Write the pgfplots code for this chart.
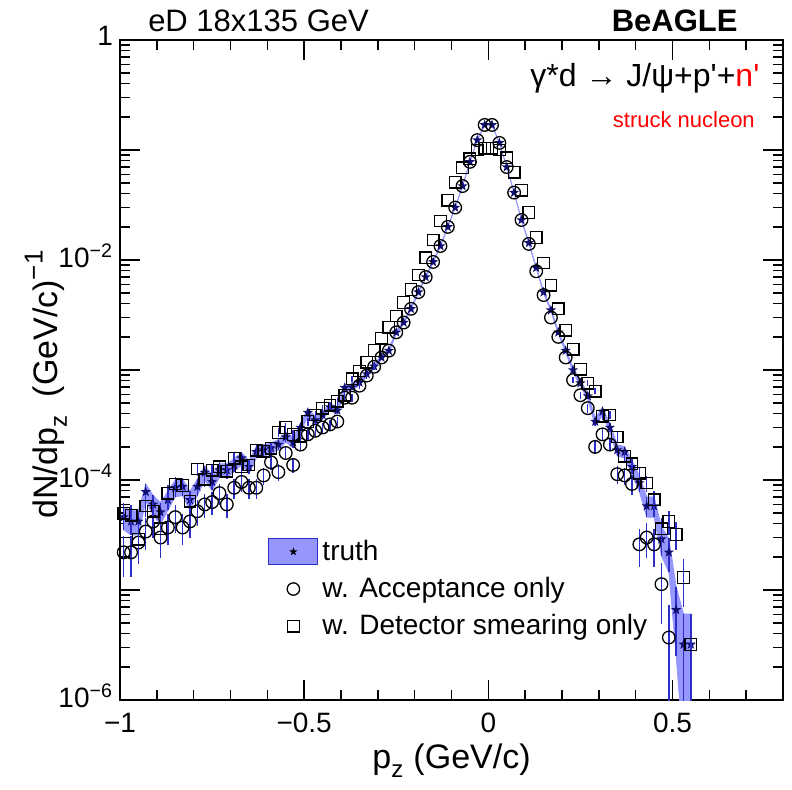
\documentclass[border=0pt]{standalone}
\usepackage{fontspec}
\setmainfont{Liberation Sans}
\usepackage{pgfplots}
\pgfplotsset{compat=1.18}
\usepackage{pgfplotstable}
\usepgfplotslibrary{fillbetween}

\definecolor{bandcol}{RGB}{150,150,255}
\definecolor{starcol}{RGB}{15,15,115}
\definecolor{errcol}{RGB}{45,45,200}
\newcommand\fs[1]{\fontsize{#1}{#1}\selectfont}

% filled five-point star (ROOT marker 29)
\pgfdeclareplotmark{fstar}{%
  \pgfpathmoveto{\pgfpointpolar{90}{\pgfplotmarksize}}%
  \pgfpathlineto{\pgfpointpolar{126}{0.4\pgfplotmarksize}}%
  \pgfpathlineto{\pgfpointpolar{162}{\pgfplotmarksize}}%
  \pgfpathlineto{\pgfpointpolar{198}{0.4\pgfplotmarksize}}%
  \pgfpathlineto{\pgfpointpolar{234}{\pgfplotmarksize}}%
  \pgfpathlineto{\pgfpointpolar{270}{0.4\pgfplotmarksize}}%
  \pgfpathlineto{\pgfpointpolar{306}{\pgfplotmarksize}}%
  \pgfpathlineto{\pgfpointpolar{342}{0.4\pgfplotmarksize}}%
  \pgfpathlineto{\pgfpointpolar{18}{\pgfplotmarksize}}%
  \pgfpathlineto{\pgfpointpolar{54}{0.4\pgfplotmarksize}}%
  \pgfpathclose\pgfusepathqfill}

% truth
\pgfplotstableread{
x y e
-0.99 4.6e-5 1.08e-5
-0.97 4.2e-5 1.04e-5
-0.95 4.2e-5 1.04e-5
-0.93 7.8e-5 1.41e-5
-0.91 6.0e-5 1.24e-5
-0.89 5.1e-5 1.14e-5
-0.87 6.6e-5 1.30e-5
-0.85 8.5e-5 1.47e-5
-0.83 8.7e-5 1.49e-5
-0.81 6.6e-5 1.30e-5
-0.79 8.7e-5 1.49e-5
-0.77 1.17e-4 1.73e-5
-0.75 9.6e-5 1.57e-5
-0.73 1.23e-4 1.77e-5
-0.71 1.23e-4 1.77e-5
-0.69 1.37e-4 1.87e-5
-0.67 1.58e-4 2.01e-5
-0.65 1.32e-4 1.84e-5
-0.63 1.8e-4 2.15e-5
-0.61 1.87e-4 2.19e-5
-0.59 1.95e-4 2.23e-5
-0.57 2.1e-4 2.32e-5
-0.55 2.46e-4 2.51e-5
-0.53 2.2e-4 2.37e-5
-0.51 3.0e-4 2.77e-5
-0.49 4.1e-4 3.24e-5
-0.47 3.5e-4 2.99e-5
-0.45 3.9e-4 3.16e-5
-0.43 4.6e-4 3.43e-5
-0.41 4.3e-4 3.32e-5
-0.39 6.9e-4 4.2e-5
-0.37 7.0e-4 4.23e-5
-0.35 7.7e-4 4.44e-5
-0.33 9.2e-4 4.85e-5
-0.31 1.08e-3 5.26e-5
-0.29 1.3e-3 5.77e-5
-0.27 1.5e-3 6.2e-5
-0.25 2.2e-3 7.5e-5
-0.23 2.7e-3 8.3e-5
-0.21 3.6e-3 9.6e-5
-0.19 5.1e-3 1.14e-4
-0.17 7.0e-3 1.34e-4
-0.15 9.6e-3 1.57e-4
-0.13 0.0134 1.85e-4
-0.11 0.020 2.26e-4
-0.09 0.030 2.77e-4
-0.07 0.047 3.47e-4
-0.05 0.078 4.47e-4
-0.03 0.123 5.6e-4
-0.01 0.169 6.6e-4
0.01 0.169 6.6e-4
0.03 0.116 5.4e-4
0.05 0.070 4.2e-4
0.07 0.041 3.24e-4
0.09 0.0231 2.43e-4
0.11 0.0143 1.91e-4
0.13 0.0085 1.47e-4
0.15 0.0051 1.14e-4
0.17 0.0035 9.5e-5
0.19 0.0022 7.5e-5
0.21 0.0015 6.2e-5
0.23 1.0e-3 5.1e-5
0.25 7.6e-4 4.4e-5
0.27 5.8e-4 3.85e-5
0.29 3.4e-4 2.95e-5
0.31 4.2e-4 3.28e-5
0.33 3.0e-4 2.77e-5
0.35 1.87e-4 2.19e-5
0.37 1.8e-4 2.15e-5
0.39 1.32e-4 1.84e-5
0.41 9.4e-5 1.55e-5
0.43 5.8e-5 1.22e-5
0.45 5.8e-5 1.22e-5
0.47 2.9e-5 8.6e-6
0.49 2.2e-5 7.5e-6
0.51 6.6e-6 4.1e-6
0.53 3.2e-6 2.86e-6
0.55 3.2e-6 2.86e-6
}\truth

% with acceptance only
\pgfplotstableread{
x y e
-0.99 2.2e-5 8.9e-6
-0.97 2.2e-5 8.9e-6
-0.95 2.7e-5 9.9e-6
-0.93 3.4e-5 1.11e-5
-0.91 4.2e-5 1.23e-5
-0.89 3.0e-5 1.04e-5
-0.87 3.7e-5 1.16e-5
-0.85 4.6e-5 1.29e-5
-0.83 3.7e-5 1.16e-5
-0.81 4.2e-5 1.23e-5
-0.79 5.2e-5 1.37e-5
-0.77 6.0e-5 1.47e-5
-0.75 6.3e-5 1.51e-5
-0.73 7.6e-5 1.66e-5
-0.71 6.0e-5 1.47e-5
-0.69 8.5e-5 1.75e-5
-0.67 9.6e-5 1.86e-5
-0.65 8.5e-5 1.75e-5
-0.63 8.5e-5 1.75e-5
-0.61 1.1e-4 1.99e-5
-0.59 1.45e-4 2.29e-5
-0.57 1.18e-4 2.06e-5
-0.55 1.76e-4 2.52e-5
-0.53 1.37e-4 2.22e-5
-0.51 2.1e-4 2.75e-5
-0.49 2.6e-4 3.06e-5
-0.47 2.8e-4 3.18e-5
-0.45 3.0e-4 3.29e-5
-0.43 3.2e-4 3.4e-5
-0.41 3.4e-4 3.5e-5
-0.39 5.6e-4 4.5e-5
-0.37 5.6e-4 4.5e-5
-0.35 7.2e-4 5.1e-5
-0.33 8.9e-4 5.7e-5
-0.31 1.07e-3 6.2e-5
-0.29 1.3e-3 0
-0.27 1.5e-3 0
-0.25 2.2e-3 0
-0.23 2.7e-3 0
-0.21 3.6e-3 0
-0.19 5.1e-3 0
-0.17 7.0e-3 0
-0.15 9.6e-3 0
-0.13 0.0134 0
-0.11 0.020 0
-0.09 0.030 0
-0.07 0.047 0
-0.05 0.078 0
-0.03 0.123 0
-0.01 0.169 0
0.01 0.169 0
0.03 0.116 0
0.05 0.070 0
0.07 0.041 0
0.09 0.0231 0
0.11 0.0140 0
0.13 0.0079 0
0.15 0.0048 0
0.17 0.0030 0
0.19 0.0020 0
0.21 1.3e-3 0
0.23 8.1e-4 5.4e-5
0.25 5.9e-4 4.6e-5
0.27 4.5e-4 4.0e-5
0.29 2.0e-4 2.7e-5
0.31 2.6e-4 3.06e-5
0.33 2.1e-4 2.75e-5
0.35 1.13e-4 2.02e-5
0.37 1.1e-4 1.99e-5
0.39 9.2e-5 1.82e-5
0.41 2.6e-5 9.7e-6
0.43 3.0e-5 1.04e-5
0.45 2.6e-5 9.7e-6
0.47 1.13e-5 6.4e-6
0.49 3.7e-6 3.6e-6
}\accept

% with detector smearing only
\pgfplotstableread{
x y e
-0.99 5.0e-5 1.13e-5
-0.97 4.8e-5 1.11e-5
-0.95 2.9e-5 8.6e-6
-0.93 5.8e-5 1.22e-5
-0.91 5.2e-5 1.15e-5
-0.89 3.6e-5 9.6e-6
-0.87 7.6e-5 1.39e-5
-0.85 9.2e-5 1.53e-5
-0.83 8.9e-5 1.51e-5
-0.81 6.4e-5 1.28e-5
-0.79 1.26e-4 1.8e-5
-0.77 1.02e-4 1.62e-5
-0.75 1.23e-4 1.77e-5
-0.73 1.32e-4 1.84e-5
-0.71 1.2e-4 1.75e-5
-0.69 1.58e-4 2.01e-5
-0.67 1.32e-4 1.84e-5
-0.65 1.37e-4 1.87e-5
-0.63 1.87e-4 2.19e-5
-0.61 1.83e-4 2.16e-5
-0.59 1.95e-4 2.23e-5
-0.57 2.7e-4 2.63e-5
-0.55 3.0e-4 2.77e-5
-0.53 2.6e-4 2.58e-5
-0.51 2.5e-4 2.53e-5
-0.49 3.4e-4 2.95e-5
-0.47 3.9e-4 3.16e-5
-0.45 4.5e-4 3.39e-5
-0.43 4.8e-4 3.5e-5
-0.41 5.2e-4 3.65e-5
-0.39 5.9e-4 3.89e-5
-0.37 8.3e-4 4.6e-5
-0.35 9.8e-4 0
-0.33 1.18e-3 0
-0.31 1.5e-3 0
-0.29 1.95e-3 0
-0.27 2.45e-3 0
-0.25 3.1e-3 0
-0.23 4.1e-3 0
-0.21 5.4e-3 0
-0.19 7.3e-3 0
-0.17 0.0105 0
-0.15 0.0152 0
-0.13 0.0226 0
-0.11 0.035 0
-0.09 0.051 0
-0.07 0.069 0
-0.05 0.083 0
-0.03 0.100 0
-0.01 0.104 0
0.01 0.104 0
0.03 0.100 0
0.05 0.085 0
0.07 0.063 0
0.09 0.043 0
0.11 0.027 0
0.13 0.016 0
0.15 0.0094 0
0.17 0.0059 0
0.19 0.0036 0
0.21 0.0023 0
0.23 0.00155 0
0.25 1.02e-3 0
0.27 7.6e-4 4.4e-5
0.29 6.4e-4 4.0e-5
0.31 3.8e-4 3.12e-5
0.33 3.9e-4 3.16e-5
0.35 2.46e-4 2.51e-5
0.37 1.65e-4 2.06e-5
0.39 1.4e-4 1.89e-5
0.41 1.15e-4 1.72e-5
0.43 9.4e-5 1.55e-5
0.45 6.6e-5 1.3e-5
0.47 3.6e-5 9.6e-6
0.49 4.2e-5 1.04e-5
0.51 3.2e-5 9.1e-6
0.53 1.3e-5 6.0e-6
0.55 3.2e-6 2.86e-6
}\smear

\begin{document}
\begin{tikzpicture}
\begin{axis}[
  scale only axis, width=331.5pt, height=330pt,
  xmin=-1, xmax=0.8, ymin=1e-6, ymax=1, ymode=log,
  clip mode=individual,
  xtick={-1,-0.5,0,0.5}, xticklabels={−1,−0.5,0,0.5},
  minor xtick={-0.9,-0.8,-0.7,-0.6,-0.4,-0.3,-0.2,-0.1,0.1,0.2,0.3,0.4,0.6,0.7},
  ytick={1e-6,1e-5,1e-4,1e-3,1e-2,1e-1,1},
  yticklabels={10\textsuperscript{−6},,10\textsuperscript{−4},,10\textsuperscript{−2},,1},
  tick align=inside, major tick length=10pt, minor tick length=5pt,
  axis line style={line width=1pt},
  every tick/.style={black, line width=0.7pt},
  ticklabel style={font=\fs{14}},
  xticklabel style={yshift=-3pt},
  yticklabel style={yshift=2pt},
  xlabel={p\raisebox{-0.5ex}{\fs{12}z}\hspace{0.3em}(GeV/c)},
  xlabel style={font=\fs{17}, at={(axis description cs:0.5,-0.066)}, anchor=north, inner sep=0pt},
  ylabel={dN/dp\raisebox{-0.5ex}{\fs{12}z}\hspace{0.55em}(GeV/c)\raisebox{0.85ex}{\fs{13}−1}},
  ylabel style={font=\fs{17}, at={(axis description cs:-0.112,0.478)}, anchor=center, inner sep=0pt},
  legend style={draw=none, fill=none, font=\fs{14}, at={(axis description cs:0.214,0.255)},
    anchor=north west, row sep=3pt, nodes={inner sep=2pt}},
  legend cell align=left,
  error bars/y dir=both, error bars/y explicit,
  error bars/error mark=none,
  error bars/error bar style={errcol, line width=0.7pt},
]
% truth band
\addplot[draw=bandcol, line width=0.4pt, name path=tup, forget plot]
  table[x=x, y expr=\thisrow{y}+\thisrow{e}] {\truth};
\addplot[draw=bandcol, line width=0.4pt, name path=tlo, forget plot]
  table[x=x, y expr=\thisrow{y}-\thisrow{e}] {\truth};
\addplot[bandcol, draw=none, forget plot] fill between[of=tup and tlo];

\addplot[only marks, mark=fstar, mark size=2.7pt, color=starcol, forget plot]
  table[x=x, y=y, y error=e] {\truth};
\addplot[only marks, mark=o, mark size=3.15pt, mark options={black, line width=0.65pt}, forget plot]
  table[x=x, y=y, y error=e] {\accept};
\addplot[only marks, mark=square, mark size=2.9pt, mark options={black, line width=0.65pt}, forget plot]
  table[x=x, y=y, y error=e] {\smear};

\addlegendimage{legend image code/.code={
  \draw[fill=bandcol, draw=errcol, line width=0.6pt] (0pt,-6.5pt) rectangle (24.5pt,6.5pt);
  \begin{scope}\pgfsetfillcolor{black}\pgftransformshift{\pgfpoint{12.25pt}{0pt}}%
  \pgfsetplotmarksize{2.2pt}\pgfuseplotmark{fstar}\end{scope}}}
\addlegendentry{truth}
\addlegendimage{legend image code/.code={
  \path[draw=none, fill=none] (0pt,-6.5pt) rectangle (24.5pt,6.5pt);
  \draw[black, line width=0.65pt, fill=none] (12.25pt,0pt) circle (3.1pt);}}
\addlegendentry{w. Acceptance only}
\addlegendimage{legend image code/.code={
  \path[draw=none, fill=none] (0pt,-6.5pt) rectangle (24.5pt,6.5pt);
  \draw[black, line width=0.65pt, fill=none] (9.35pt,-2.9pt) rectangle (15.15pt,2.9pt);}}
\addlegendentry{w. Detector smearing only}

\node[anchor=base west, font=\fs{15.5}, inner sep=0pt] at (axis description cs:0.042,1.0136) {eD 18x135 GeV};
\node[anchor=base east, font=\fs{15.5}\bfseries, inner sep=0pt] at (axis description cs:0.932,1.0136) {BeAGLE};
\node[anchor=base east, font=\fs{16}, inner sep=0pt] at (axis description cs:0.965,0.930)
  {γ*d → J/ψ+p\textquotesingle+\textcolor{red}{n\textquotesingle}};
\node[anchor=base east, font=\fs{11}, text=red, inner sep=0pt] at (axis description cs:0.958,0.868) {struck nucleon};
\end{axis}
\pgfresetboundingbox
\path (-60pt,-44.5pt) rectangle (336pt,350pt);
\end{tikzpicture}
\end{document}
